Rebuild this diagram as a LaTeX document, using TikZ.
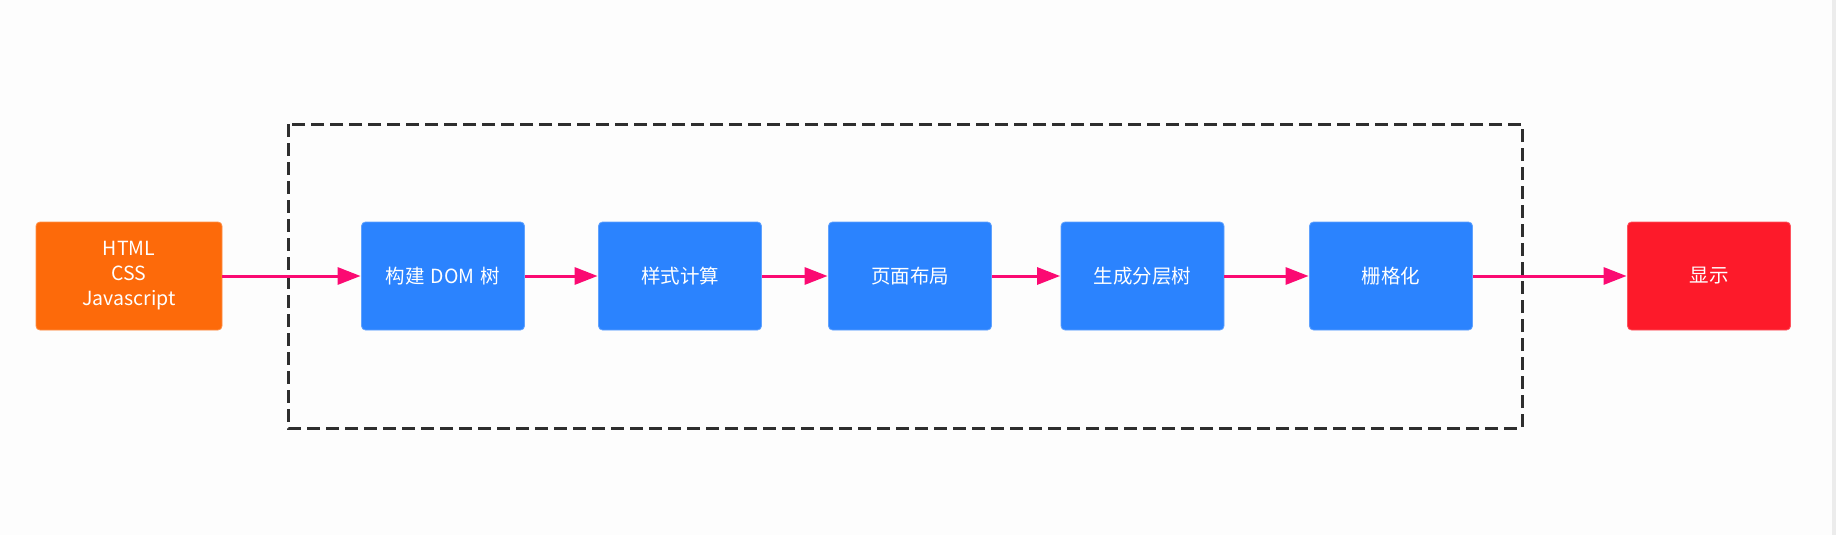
\documentclass[tikz,border=0pt]{standalone}
\usepackage{fontspec}
\setmainfont{Noto Sans CJK SC}
\usetikzlibrary{arrows.meta}
\definecolor{orangebox}{HTML}{FD6A0A}
\definecolor{bluebox}{HTML}{2B83FE}
\definecolor{redbox}{HTML}{FD1A2A}
\definecolor{arrowpink}{HTML}{FB0A72}
\definecolor{dashgray}{HTML}{2E2E2E}
\definecolor{stripgray}{HTML}{ECECEC}
\definecolor{bggray}{HTML}{FDFDFD}
\tikzset{
  stagebox/.style={rectangle, rounded corners=4pt, minimum height=108pt,
    text=white, font=\fontsize{19.5pt}{25pt}\selectfont, align=center, inner sep=0pt},
  bluestage/.style={stagebox, fill=bluebox, draw=bluebox!75!white, line width=0.8pt, minimum width=163pt},
  flowarrow/.style={draw=arrowpink, line width=3pt, -{Triangle[length=23pt,width=17pt]}, shorten >=0.5pt},
  groupframe/.style={draw=dashgray, line width=3pt, dash pattern=on 13pt off 6pt}
}
\begin{document}
\begin{tikzpicture}[x=1pt,y=-1pt]
\useasboundingbox (0,0) rectangle (1836,535);
\fill[bggray] (0,0) rectangle (1832,535);
\fill[stripgray] (1832,0) rectangle (1836,535);
% dashed group frame
\draw[groupframe] (288,124) rectangle (1522,428);
% nodes
\node[stagebox, fill=orangebox, draw=orangebox!75!white, line width=0.8pt, minimum width=186pt] (src) at (129,276) {HTML\\CSS\\Javascript};
\node[bluestage] (dom) at (443,276) {构建\hspace{6pt}DOM\hspace{6pt}树};
\node[bluestage] (style) at (680,276) {样式计算};
\node[bluestage] (layout) at (910,276) {页面布局};
\node[bluestage] (layer) at (1142.5,276) {生成分层树};
\node[bluestage] (raster) at (1391,276) {栅格化};
\node[stagebox, fill=redbox, draw=redbox!75!white, line width=0.8pt, minimum width=163pt] (show) at (1709,276) {显示};
% connectors
\draw[flowarrow] (src.east) -- (dom.west);
\draw[flowarrow] (dom.east) -- (style.west);
\draw[flowarrow] (style.east) -- (layout.west);
\draw[flowarrow] (layout.east) -- (layer.west);
\draw[flowarrow] (layer.east) -- (raster.west);
\draw[flowarrow] (raster.east) -- (show.west);
\end{tikzpicture}
\end{document}
